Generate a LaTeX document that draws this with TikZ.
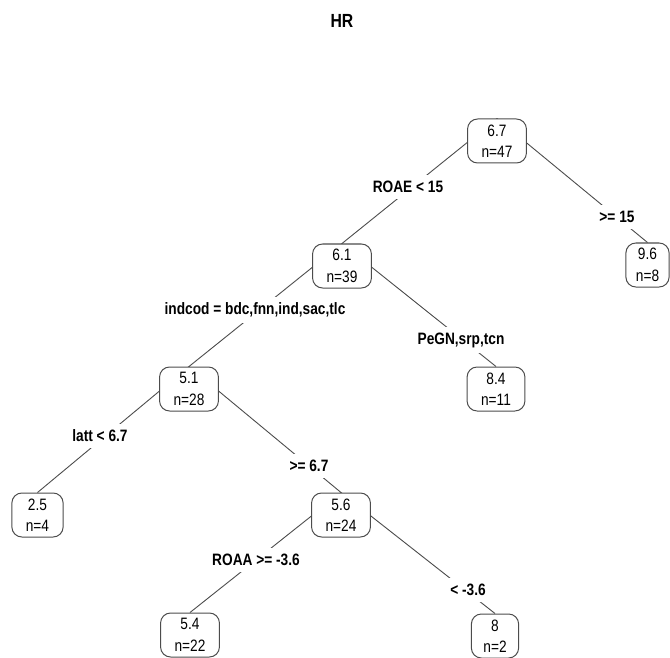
\documentclass[tikz,border=0pt]{standalone}
\usepackage{fontspec}
\setmainfont[FakeStretch=0.83]{Liberation Sans}
\usetikzlibrary{backgrounds}
\begin{document}
\begin{tikzpicture}[x=1pt,y=-1pt,
  treenode/.style={draw=black!70, line width=1pt, rounded corners=10pt, fill=white,
    align=center, inner xsep=14pt, inner ysep=0pt, minimum height=44pt,
    font=\fontsize{16.5}{21.5}\selectfont},
  splitlabel/.style={fill=white, inner xsep=3pt, inner ysep=6pt,
    font=\fontsize{16.5}{18}\selectfont\bfseries},
  branch/.style={draw=black!70, line width=0.9pt}]
\useasboundingbox (0,0) rectangle (670,658);
\node[font=\fontsize{19}{20}\selectfont\bfseries] (title) at (342,21) {HR};
% nodes
\node[treenode] (n1) at (497,141) {6.7\\n=47};
\node[treenode, inner xsep=10pt] (n3) at (647.5,265) {9.6\\n=8};
\node[treenode] (n2) at (342,266) {6.1\\n=39};
\node[treenode] (n5) at (496,389) {8.4\\n=11};
\node[treenode] (n4) at (189,389) {5.1\\n=28};
\node[treenode] (n8) at (37.5,515) {2.5\\n=4};
\node[treenode] (n9) at (341,515) {5.6\\n=24};
\node[treenode] (n18) at (190,635) {5.4\\n=22};
\node[treenode, inner xsep=12pt] (n19) at (495,636) {8\\n=2};
% split labels
\node[splitlabel] (l1) at (408,187) {ROAE < 15};
\node[splitlabel] (r1) at (617,217) {>= 15};
\node[splitlabel] (l2) at (255,310) {indcod = bdc,fnn,ind,sac,tlc};
\node[splitlabel] (r2) at (461,340) {PeGN,srp,tcn};
\node[splitlabel] (l4) at (100,436) {latt < 6.7};
\node[splitlabel] (r4) at (309,466) {>= 6.7};
\node[splitlabel] (l9) at (256,560) {ROAA >= -3.6};
\node[splitlabel] (r9) at (468,590) {< -3.6};
% branches
\begin{scope}[on background layer]
\draw[branch] (n1.north) -- (n2.north);
\draw[branch] (n1.north) -- (n3.north);
\draw[branch] (n2.north) -- (n4.north);
\draw[branch] (n2.north) -- (n5.north);
\draw[branch] (n4.north) -- (n8.north);
\draw[branch] (n4.north) -- (n9.north);
\draw[branch] (n9.north) -- (n18.north);
\draw[branch] (n9.north) -- (n19.north);
\end{scope}
\end{tikzpicture}
\end{document}
